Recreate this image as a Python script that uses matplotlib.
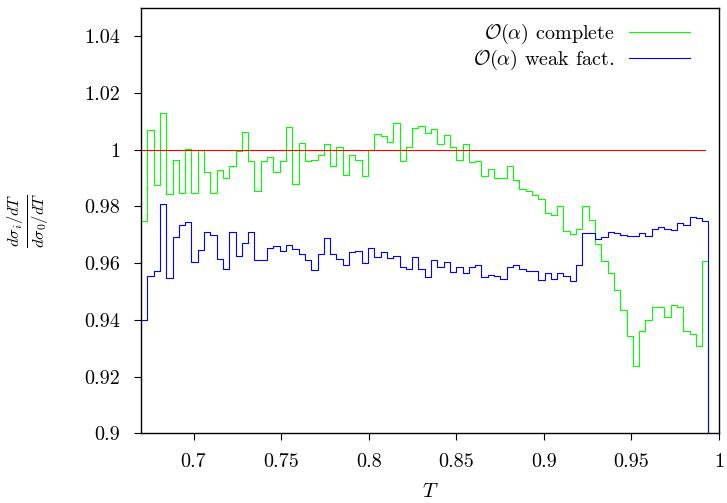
import numpy as np
import matplotlib
matplotlib.use("Agg")
import matplotlib.pyplot as plt

plt.rcParams["font.family"] = "serif"
plt.rcParams["font.serif"] = ["cmr10"]
plt.rcParams["mathtext.fontset"] = "cm"
plt.rcParams["axes.formatter.use_mathtext"] = True

# binning in T: 90 bins of width 0.0036 starting at 0.67
t_start = 0.67
t_width = 0.0036
n_bins = 90

# ratio O(alpha) complete / Born, per bin
complete = [0.9750, 1.0071, 0.9876, 1.0130, 0.9843, 0.9964, 0.9849, 1.0003, 0.9849, 0.9998,
            0.9921, 0.9847, 0.9929, 0.9900, 0.9941, 0.9996, 1.0062, 0.9961, 0.9855, 0.9961,
            0.9976, 0.9922, 0.9962, 1.0080, 0.9878, 1.0025, 0.9959, 0.9963, 0.9983, 1.0020,
            0.9942, 1.0010, 0.9911, 0.9983, 0.9965, 0.9906, 0.9999, 1.0056, 1.0047, 1.0026,
            1.0096, 0.9962, 1.0008, 1.0078, 1.0083, 1.0059, 1.0072, 1.0022, 1.0051, 1.0008,
            0.9963, 1.0020, 0.9957, 0.9962, 0.9909, 0.9932, 0.9901, 0.9901, 0.9944, 0.9892,
            0.9860, 0.9855, 0.9842, 0.9826, 0.9777, 0.9770, 0.9803, 0.9714, 0.9702, 0.9719,
            0.9801, 0.9754, 0.9669, 0.9608, 0.9564, 0.9505, 0.9434, 0.9343, 0.9237, 0.9362,
            0.9399, 0.9444, 0.9446, 0.9411, 0.9453, 0.9444, 0.9362, 0.9350, 0.9308, 0.9606]

# ratio O(alpha) weak factorisable / Born, per bin
weak_fact = [0.9399, 0.9555, 0.9572, 0.9807, 0.9548, 0.9692, 0.9736, 0.9747, 0.9604, 0.9647,
             0.9710, 0.9699, 0.9614, 0.9580, 0.9710, 0.9626, 0.9672, 0.9710, 0.9610, 0.9610,
             0.9652, 0.9662, 0.9642, 0.9664, 0.9650, 0.9633, 0.9611, 0.9576, 0.9632, 0.9688,
             0.9633, 0.9615, 0.9594, 0.9638, 0.9643, 0.9600, 0.9655, 0.9621, 0.9640, 0.9618,
             0.9627, 0.9585, 0.9578, 0.9621, 0.9578, 0.9552, 0.9611, 0.9585, 0.9605, 0.9569,
             0.9585, 0.9565, 0.9585, 0.9595, 0.9553, 0.9559, 0.9555, 0.9543, 0.9585, 0.9592,
             0.9579, 0.9571, 0.9572, 0.9540, 0.9566, 0.9545, 0.9564, 0.9554, 0.9538, 0.9594,
             0.9705, 0.9707, 0.9684, 0.9691, 0.9709, 0.9705, 0.9700, 0.9695, 0.9695, 0.9705,
             0.9695, 0.9721, 0.9726, 0.9721, 0.9716, 0.9740, 0.9733, 0.9763, 0.9761, 0.9749]

xticks = [0.7, 0.75, 0.8, 0.85, 0.9, 0.95, 1.0]
xtick_labels = ["0.7", "0.75", "0.8", "0.85", "0.9", "0.95", "1"]
yticks = [0.9, 0.92, 0.94, 0.96, 0.98, 1.0, 1.02, 1.04]
ytick_labels = ["0.9", "0.92", "0.94", "0.96", "0.98", "1", "1.02", "1.04"]

edges = t_start + t_width * np.arange(n_bins + 1)
centers = 0.5 * (edges[:-1] + edges[1:])


def steps_with_drop(vals):
    # histogram steps that fall to zero after the last bin
    x = np.append(edges, edges[-1])
    y = np.append(vals, [vals[-1], 0.0])
    return x, y


fig = plt.figure(figsize=(7.27, 5.03), dpi=100)
ax = fig.add_axes([141 / 727, 1 - 433.3 / 503, 578 / 727, 425.3 / 503])

x, y = steps_with_drop(complete)
ax.step(x, y, where="post", color="#00ff00", lw=0.8, label=r"$\mathcal{O}(\alpha)$ complete")
x, y = steps_with_drop(weak_fact)
ax.step(x, y, where="post", color="#0000ff", lw=0.8, label=r"$\mathcal{O}(\alpha)$ weak fact.")
ax.plot([t_start, centers[-1]], [1.0, 1.0], color="#ff0000", lw=0.8)

ax.set_xlim(0.67, 1.0)
ax.set_ylim(0.9, 1.05)
ax.set_xticks(xticks)
ax.set_xticklabels(xtick_labels, fontsize=14.5)
ax.set_yticks(yticks)
ax.set_yticklabels(ytick_labels, fontsize=14.5)
ax.tick_params(direction="out", length=5, width=0.8)
ax.tick_params(axis="x", pad=9)
ax.tick_params(axis="y", pad=10)
for s in ax.spines.values():
    s.set_linewidth(1.0)

ax.set_xlabel(r"$T$", fontsize=15)
ax.xaxis.set_label_coords(0.5, -0.116)
ax.set_ylabel(r"$\frac{d\sigma_i/dT}{d\sigma_0/dT}$", fontsize=17)
ax.yaxis.set_label_coords(-0.158, 0.5)

ax.legend(loc="upper right", bbox_to_anchor=(1 - 15 / 578, 1.0), frameon=False,
          markerfirst=False, fontsize=14.5, handlelength=3.0, handletextpad=0.75,
          labelspacing=0.1, borderaxespad=0.3)

fig.savefig("out.png", dpi=100)
